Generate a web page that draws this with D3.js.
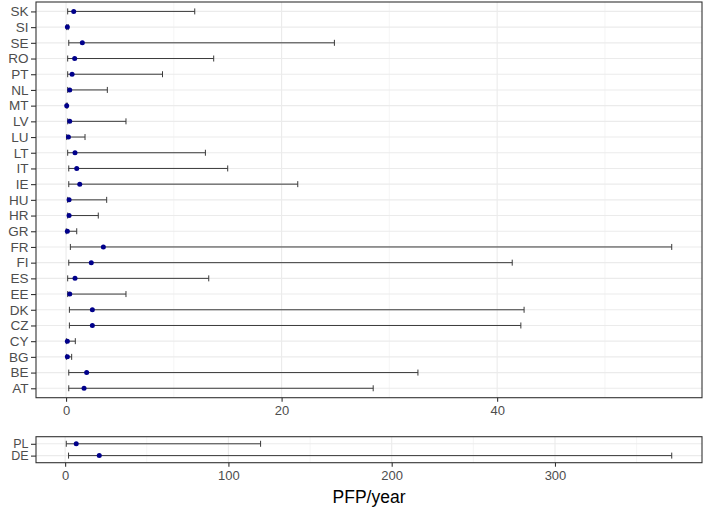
<!DOCTYPE html>
<html>
<head>
<meta charset="utf-8">
<script src="https://cdn.jsdelivr.net/npm/d3@7"></script>
<style>
  body { margin: 0; background: #fff; }
  text { font-family: Arial, "Liberation Sans", sans-serif; }
</style>
</head>
<body>
<svg id="chart" width="709" height="510"></svg>
<script>
// ---------- DATA ----------
const topCountries = ['SK', 'SI', 'SE', 'RO', 'PT', 'NL', 'MT', 'LV', 'LU', 'LT', 'IT', 'IE', 'HU',
  'HR', 'GR', 'FR', 'FI', 'ES', 'EE', 'DK', 'CZ', 'CY', 'BG', 'BE', 'AT'];
const topMean = [0.71, 0.12, 1.51, 0.8, 0.56, 0.34, 0.06, 0.34, 0.22, 0.83, 0.99, 1.27, 0.28,
  0.28, 0.12, 3.46, 2.34, 0.83, 0.34, 2.44, 2.44, 0.12, 0.12, 1.91, 1.67];
const topLower = [0.15, 0.06, 0.25, 0.15, 0.15, 0.15, 0.02, 0.15, 0.06, 0.15, 0.25, 0.25, 0.15,
  0.15, 0.02, 0.4, 0.25, 0.15, 0.15, 0.31, 0.31, 0.03, 0.03, 0.25, 0.25];
const topUpper = [11.94, 0.2, 24.9, 13.7, 8.95, 3.83, 0.12, 5.56, 1.76, 12.93, 15.0, 21.5, 3.77,
  2.99, 0.99, 56.2, 41.4, 13.24, 5.56, 42.5, 42.2, 0.86, 0.52, 32.65, 28.5];
const topTicks = [0, 20, 40];

const bottomCountries = ['PL', 'DE'];
const bottomMean = [6.8, 20.9];
const bottomLower = [0.7, 2.1];
const bottomUpper = [119.7, 371.5];
const bottomTicks = [0, 100, 200, 300];

const xTitle = 'PFP/year';

// ---------- HELPERS ----------
const svg = d3.select('#chart');
svg.append('rect').attr('width', 709).attr('height', 510).attr('fill', '#fff');

const left = 36;
const right = 702;

function expand(lo, hi) {
  const pad = (hi - lo) * 0.05;
  return [lo - pad, hi + pad];
}

function drawPanel(cfg) {
  const { names, mean, lower, upper, ticks, top, bottom, labelSize } = cfg;
  const rows = names.map((n, i) => ({ name: n, mean: mean[i], lower: lower[i], upper: upper[i] }));

  const x = d3
    .scaleLinear()
    .domain(expand(d3.min(lower), d3.max(upper)))
    .range([left, right]);

  const y = d3.scalePoint().domain(names).range([top, bottom]).padding(0.6);

  const g = svg.append('g');

  // minor grid (midpoints between major ticks)
  const step = ticks[1] - ticks[0];
  const minor = d3.range(ticks[0] - step / 2, x.domain()[1], step).filter(
    (v) => v > x.domain()[0] && v < x.domain()[1]
  );
  g.selectAll('line.minor')
    .data(minor)
    .join('line')
    .attr('x1', (d) => x(d))
    .attr('x2', (d) => x(d))
    .attr('y1', top)
    .attr('y2', bottom)
    .attr('stroke', '#f0f0f0')
    .attr('stroke-width', 0.7);

  // major grid
  g.selectAll('line.vmajor')
    .data(ticks)
    .join('line')
    .attr('x1', (d) => x(d))
    .attr('x2', (d) => x(d))
    .attr('y1', top)
    .attr('y2', bottom)
    .attr('stroke', '#ebebeb')
    .attr('stroke-width', 1.1);

  g.selectAll('line.hmajor')
    .data(names)
    .join('line')
    .attr('x1', left)
    .attr('x2', right)
    .attr('y1', (d) => y(d))
    .attr('y2', (d) => y(d))
    .attr('stroke', '#ebebeb')
    .attr('stroke-width', 1.1);

  // error bars
  const cap = 3;
  const bars = g.selectAll('g.bar').data(rows).join('g');
  bars.append('line')
    .attr('x1', (d) => x(d.lower))
    .attr('x2', (d) => x(d.upper))
    .attr('y1', (d) => y(d.name))
    .attr('y2', (d) => y(d.name));
  bars.append('line')
    .attr('x1', (d) => x(d.lower))
    .attr('x2', (d) => x(d.lower))
    .attr('y1', (d) => y(d.name) - cap)
    .attr('y2', (d) => y(d.name) + cap);
  bars.append('line')
    .attr('x1', (d) => x(d.upper))
    .attr('x2', (d) => x(d.upper))
    .attr('y1', (d) => y(d.name) - cap)
    .attr('y2', (d) => y(d.name) + cap);
  bars.selectAll('line').attr('stroke', '#3a3a3a').attr('stroke-width', 1);

  // points
  g.selectAll('circle')
    .data(rows)
    .join('circle')
    .attr('cx', (d) => x(d.mean))
    .attr('cy', (d) => y(d.name))
    .attr('r', 2.5)
    .attr('fill', '#00008b');

  // border
  g.append('rect')
    .attr('x', left)
    .attr('y', top)
    .attr('width', right - left)
    .attr('height', bottom - top)
    .attr('fill', 'none')
    .attr('stroke', '#333')
    .attr('stroke-width', 1.1);

  // axes
  const yAxis = g.append('g')
    .attr('transform', `translate(${left},0)`)
    .call(d3.axisLeft(y).tickSize(5).tickPadding(2.5));
  const xAxis = g.append('g')
    .attr('transform', `translate(0,${bottom})`)
    .call(d3.axisBottom(x).tickValues(ticks).tickFormat(d3.format('d')).tickSize(4).tickPadding(4));

  [yAxis, xAxis].forEach((a) => {
    a.select('.domain').remove();
    a.selectAll('.tick line').attr('stroke', '#333').attr('stroke-width', 1.1);
    a.selectAll('.tick text').attr('fill', '#4d4d4d').style('font-size', '13px');
  });
  yAxis.selectAll('.tick text').style('font-size', labelSize);
}

drawPanel({
  names: topCountries,
  mean: topMean,
  lower: topLower,
  upper: topUpper,
  ticks: topTicks,
  top: 2,
  bottom: 397.7,
  labelSize: '13.5px',
});

drawPanel({
  names: bottomCountries,
  mean: bottomMean,
  lower: bottomLower,
  upper: bottomUpper,
  ticks: bottomTicks,
  top: 436.7,
  bottom: 462.7,
  labelSize: '12.5px',
});

svg.append('text')
  .attr('x', (left + right) / 2)
  .attr('y', 503)
  .attr('text-anchor', 'middle')
  .attr('fill', '#000')
  .style('font-size', '17.5px')
  .text(xTitle);
</script>
</body>
</html>
